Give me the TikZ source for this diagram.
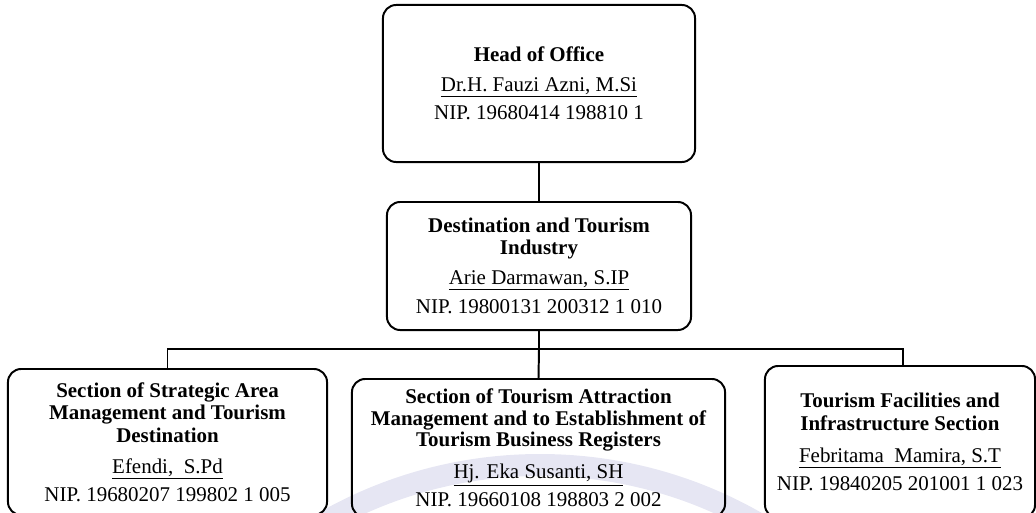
\documentclass[tikz,border=0pt]{standalone}
\usepackage{fontspec}
\setmainfont{Liberation Serif}
\usepackage{tikz}
\usetikzlibrary{calc}

\tikzset{
  unitbox/.style={draw, line width=1.4pt, rounded corners=0.33cm, align=center, inner sep=0pt,
    font=\fontsize{14.9}{16}\selectfont},
  link/.style={line width=1.4pt}
}

\begin{document}
\begin{tikzpicture}[x=0.025cm, y=-0.025cm]
    \useasboundingbox (0,0) rectangle (1036,512);
    \clip (0,0) rectangle (1036,512);

    % Marca de agua
    \definecolor{markcol}{RGB}{230,230,243}
    \draw[markcol, line width=0.55cm] (540,900) circle[radius=435];

    % Jefe de oficina
    \node[unitbox, minimum width=7.8cm, minimum height=3.925cm] (head) at (539,83.5)
      {\textbf{Head of Office}\\[5pt]
       \underline{Dr.H. Fauzi Azni, M.Si}\\[4pt]
       NIP. 19680414 198810 1};

    % Destino e industria
    \node[unitbox, minimum width=7.6cm, minimum height=3.2cm] (dest) at (539,266)
      {\textbf{Destination and Tourism}\\
       \textbf{Industry}\\[5pt]
       \underline{Arie Darmawan, S.IP}\\[5pt]
       NIP. 19800131 200312 1 010};

    % Secciones
    \node[unitbox, minimum width=7.975cm, minimum height=3.65cm] (area) at (167.5,442)
      {\textbf{Section of Strategic Area}\\
       \textbf{Management and Tourism}\\
       \textbf{Destination}\\[6pt]
       \underline{Efendi,\ \ S.Pd}\\[4pt]
       NIP. 19680207 199802 1 005};

    \node[unitbox, minimum width=9.325cm, minimum height=3.45cm] (attr) at (538.5,448)
      {\textbf{Section of Tourism Attraction}\\[-1pt]
       \textbf{Management and to Establishment of}\\[-1pt]
       \textbf{Tourism Business Registers}\\[7pt]
       \underline{Hj. Eka Susanti, SH}\\[4pt]
       NIP. 19660108 198803 2 002};

    \node[unitbox, minimum width=6.75cm, minimum height=3.8cm] (fac) at (900,442)
      {\textbf{Tourism Facilities and}\\
       \textbf{Infrastructure Section}\\[7pt]
       \underline{Febritama\ \ Mamira, S.T}\\[4pt]
       NIP. 19840205 201001 1 023};

    % Conectores
    \coordinate (bus) at (539,349);
    \draw[link] (head.south) -- (dest.north);
    \draw[link] (dest.south) -- (bus);
    \draw[link] (attr.north) -- (bus);
    \draw[link] (area.north) |- (bus);
    \draw[link] ([xshift=0.075cm]fac.north) |- (bus);
  \end{tikzpicture}
\end{document}
